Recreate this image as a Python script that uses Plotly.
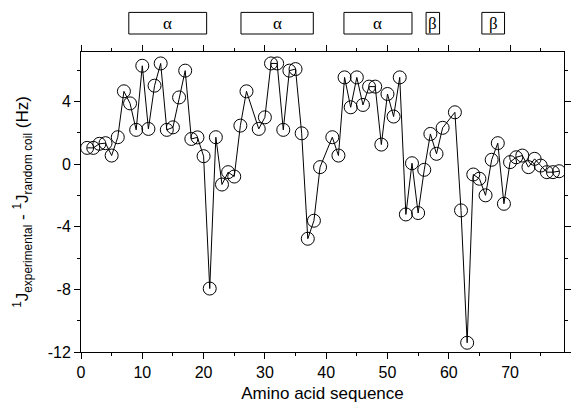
import plotly.graph_objects as go

residues = [1, 2, 3, 4, 5, 6, 7, 8, 9, 10, 11, 12, 13, 14, 15, 16, 17, 18, 19, 20,
            21, 22, 23, 24, 25, 26, 27, 29, 30, 31, 32, 33, 34, 35, 36, 37, 38, 39,
            41, 42, 43, 44, 45, 46, 47, 48, 49, 50, 51, 52, 53, 54, 55, 56, 57, 58, 59,
            61, 62, 63, 64, 65, 66, 67, 68, 69, 70, 71, 72, 73, 74, 75, 76, 77, 78]
delta_j = [1.03, 1.03, 1.29, 1.33, 0.54, 1.71, 4.64, 3.87, 2.18, 6.27, 2.24, 5.0, 6.42, 2.18,
           2.34, 4.25, 5.96, 1.6, 1.7, 0.5,
           -7.95, 1.71, -1.31, -0.52, -0.8, 2.45, 4.64, 2.24, 2.98, 6.42, 6.42, 2.18, 5.96,
           6.06, 1.96, -4.77, -3.62, -0.2,
           1.71, 0.54, 5.53, 3.62, 5.53, 3.77, 4.94, 4.94, 1.24, 4.47, 3.03, 5.53, -3.22,
           0.05, -3.13, -0.37, 1.92, 0.65, 2.31,
           3.3, -2.96, -11.41, -0.67, -0.94, -2.0, 0.27, 1.33, -2.54, 0.12, 0.43, 0.54,
           -0.2, 0.33, -0.1, -0.52, -0.52, -0.46]

ss_labels = ["α", "α", "α", "β", "β"]
ss_start = [7.8, 26.1, 42.9, 56.3, 65.4]
ss_end = [20.5, 37.9, 54.0, 58.5, 69.1]

x_ticks = [0, 10, 20, 30, 40, 50, 60, 70]
y_ticks = [-12, -8, -4, 0, 4]

fig = go.Figure()
fig.add_trace(go.Scatter(
    x=residues, y=delta_j, mode="lines+markers",
    line=dict(color="black", width=1),
    marker=dict(symbol="circle-open", size=13, color="black", line=dict(width=1)),
    showlegend=False,
))

font_family = "Liberation Sans, Arial, sans-serif"

shapes = []
annotations = []
for lab, s, e in zip(ss_labels, ss_start, ss_end):
    shapes.append(dict(type="rect", xref="x", yref="paper", x0=s, x1=e,
                       y0=1.06, y1=1.132, line=dict(color="black", width=1),
                       fillcolor="white"))
    annotations.append(dict(x=(s + e) / 2, y=1.096, xref="x", yref="paper",
                            xanchor="center", yanchor="middle",
                            text=lab, showarrow=False,
                            font=dict(family="Liberation Serif, Times New Roman, serif",
                                      size=17, color="black")))

fig.update_layout(
    width=572, height=407,
    margin=dict(l=81, r=1, t=52, b=55),
    paper_bgcolor="white", plot_bgcolor="white",
    font=dict(family=font_family, size=16, color="black"),
    shapes=shapes, annotations=annotations,
    xaxis=dict(
        range=[0, 78.8], tickvals=x_ticks, ticktext=[str(v) for v in x_ticks],
        ticks="outside", ticklen=6, tickwidth=1, tickcolor="black",
        minor=dict(dtick=5, tick0=0, ticks="outside", ticklen=3, tickcolor="black"),
        showline=True, linecolor="black", linewidth=1, mirror="allticks",
        showgrid=False, zeroline=False,
        title=dict(text="Amino acid sequence", font=dict(size=17), standoff=6),
        tickfont=dict(size=16),
    ),
    yaxis=dict(
        range=[-12, 7.15], tickvals=y_ticks, ticktext=[str(v) for v in y_ticks],
        ticks="outside", ticklen=6, tickwidth=1, tickcolor="black",
        minor=dict(dtick=2, tick0=0, ticks="outside", ticklen=3, tickcolor="black"),
        showline=True, linecolor="black", linewidth=1, mirror="allticks",
        showgrid=False, zeroline=False,
        title=dict(text="<sup>1</sup>J<sub>experimental</sub> - <sup>1</sup>J<sub>random coil</sub> (Hz)",
                   font=dict(size=17), standoff=14),
        tickfont=dict(size=16),
    ),
)

fig.write_html("out.html", config={"displayModeBar": False},
               post_script="document.body.style.margin='0';document.body.style.padding='0';")
